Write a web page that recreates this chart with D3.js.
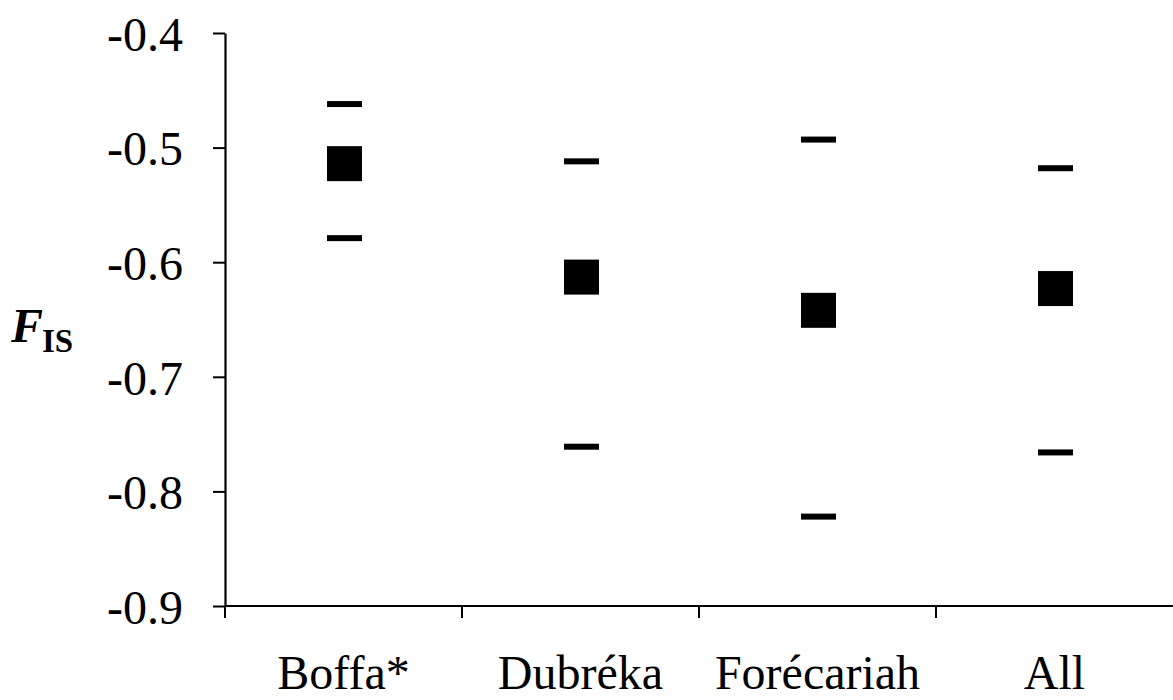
<!DOCTYPE html>
<html>
<head>
<meta charset="utf-8">
<script src="https://cdn.jsdelivr.net/npm/d3@7"></script>
<style>
  html, body { margin: 0; padding: 0; background: #fff; }
  svg { display: block; }
</style>
</head>
<body>
<svg id="chart" width="1173" height="700"></svg>
<script>
// Sites and F_IS estimates with lower / upper confidence limits
const sites = ["Boffa*", "Dubréka", "Forécariah", "All"];
const fisMean = [-0.514, -0.613, -0.642, -0.623];
const fisUpper = [-0.462, -0.512, -0.493, -0.518];
const fisLower = [-0.579, -0.761, -0.822, -0.766];
const yTicks = [-0.4, -0.5, -0.6, -0.7, -0.8, -0.9];

const SERIF = "'Liberation Serif', 'Times New Roman', Times, 'DejaVu Serif', serif";
const plot = { left: 225, right: 1173, top: 33, bottom: 606 };

const svg = d3.select("#chart");

const x = d3.scaleBand().domain(sites).range([plot.left, plot.right]).padding(0);
const y = d3.scaleLinear().domain([-0.9, -0.4]).range([plot.bottom, plot.top]);

// Y axis
const yAxis = d3.axisLeft(y)
  .tickValues(yTicks)
  .tickFormat(d => d3.format(".1f")(d).replace("\u2212", "-"))
  .tickSize(12)
  .tickSizeOuter(0)
  .tickPadding(30);

const gy = svg.append("g")
  .attr("transform", `translate(${plot.left},0)`)
  .call(yAxis)
  .attr("font-family", null)
  .attr("font-size", null);
gy.select(".domain").attr("stroke", "#000").attr("stroke-width", 2.2);
gy.selectAll(".tick line").attr("stroke", "#000").attr("stroke-width", 2);
gy.selectAll(".tick text")
  .attr("fill", "#000")
  .attr("dy", "0.36em")
  .style("font-family", SERIF)
  .style("font-size", "48px");

// X axis line with tick marks at category boundaries
const gx = svg.append("g");
gx.append("line")
  .attr("x1", plot.left).attr("x2", plot.right)
  .attr("y1", y(-0.9)).attr("y2", y(-0.9))
  .attr("stroke", "#000").attr("stroke-width", 2.2);

const bounds = sites.map(s => x(s));
gx.selectAll("line.bound")
  .data(bounds)
  .join("line")
  .attr("class", "bound")
  .attr("x1", d => d).attr("x2", d => d)
  .attr("y1", y(-0.9)).attr("y2", y(-0.9) + 12)
  .attr("stroke", "#000").attr("stroke-width", 2);

gx.selectAll("text.cat")
  .data(sites)
  .join("text")
  .attr("class", "cat")
  .attr("x", d => x(d) + x.bandwidth() / 2)
  .attr("y", 689)
  .attr("text-anchor", "middle")
  .attr("fill", "#000")
  .style("font-family", SERIF)
  .style("font-size", "48px")
  .text(d => d);

// Y axis title: F with subscript IS
const title = svg.append("text")
  .attr("x", 11)
  .attr("y", 342)
  .attr("fill", "#000")
  .style("font-family", SERIF)
  .style("font-size", "48px");
title.append("tspan")
  .style("font-weight", "bold")
  .style("font-style", "italic")
  .text("F");
title.append("tspan")
  .attr("dy", 10)
  .attr("dx", -1)
  .style("font-size", "33px")
  .style("font-weight", "bold")
  .text("IS");

// Marks
const rows = sites.map((s, i) => ({ site: s, mean: fisMean[i], upper: fisUpper[i], lower: fisLower[i] }));
const cx = d => x(d.site) + x.bandwidth() / 2 + 1;
const sq = 35, limW = 35, limH = 6;

const marks = svg.append("g");
marks.selectAll("rect.upper")
  .data(rows).join("rect")
  .attr("class", "upper")
  .attr("x", d => cx(d) - limW / 2)
  .attr("y", d => y(d.upper) - limH / 2)
  .attr("width", limW).attr("height", limH)
  .attr("fill", "#000");

marks.selectAll("rect.lower")
  .data(rows).join("rect")
  .attr("class", "lower")
  .attr("x", d => cx(d) - limW / 2)
  .attr("y", d => y(d.lower) - limH / 2)
  .attr("width", limW).attr("height", limH)
  .attr("fill", "#000");

marks.selectAll("rect.mean")
  .data(rows).join("rect")
  .attr("class", "mean")
  .attr("x", d => cx(d) - sq / 2)
  .attr("y", d => y(d.mean) - sq / 2)
  .attr("width", sq).attr("height", sq)
  .attr("fill", "#000");
</script>
</body>
</html>
